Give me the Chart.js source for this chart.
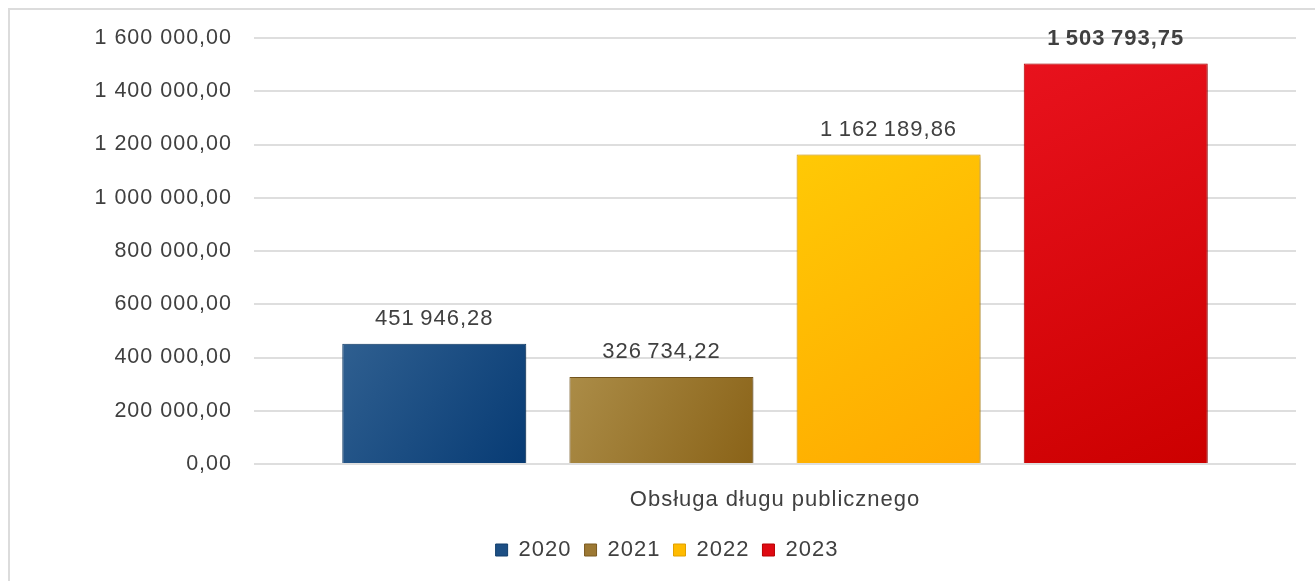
<!DOCTYPE html>
<html lang="pl">
<head>
<meta charset="UTF-8">
<title>Obsługa długu publicznego</title>
<script src="https://cdn.jsdelivr.net/npm/chart.js"></script>
<style>
  html, body { margin: 0; padding: 0; background: #fff; overflow: hidden; }
  .frame {
    position: absolute; left: 8px; top: 8px;
    width: 1400px; height: 700px;
    border: 2px solid #dcdcdc;
  }
  .wrap { position: absolute; left: 0; top: 0; width: 1315px; height: 581px; }
</style>
</head>
<body>
<div class="frame"></div>
<div class="wrap"><canvas id="chart"></canvas></div>
<script>
// dane
const categories = ['Obsługa długu publicznego'];
const years = ['2020', '2021', '2022', '2023'];
const values = [451946.28, 326734.22, 1162189.86, 1503793.75];

// kolory słupków (góra-lewo -> dół-prawo)
const colorLight = ['#2f5f90', '#ab8c47', '#ffc905', '#e8121d'];
const colorDark  = ['#073b74', '#8a6318', '#ffa900', '#cc0000'];
const colorSolid = ['#1d4f84', '#9c7833', '#ffbb00', '#df0a12'];
const colorEdge  = ['#123f6c', '#7a5a20', '#e0a000', '#b80000'];

const textColor = '#404040';
const font = '"Liberation Sans", Arial, sans-serif';

function fmt(v, sep) {
  const [i, d] = v.toFixed(2).split('.');
  return i.replace(/\B(?=(\d{3})+(?!\d))/g, sep) + ',' + d;
}

// trochę szerszy tekst, jak w oryginale
const spacing = {
  id: 'spacing',
  beforeLayout(chart) { chart.ctx.letterSpacing = '1px'; },
  beforeDraw(chart) { chart.ctx.letterSpacing = '1px'; }
};

const barStyle = {
  id: 'barStyle',
  beforeDatasetDraw(chart, args) {
    const ctx = chart.ctx;
    const i = args.index;
    args.meta.data.forEach(bar => {
      const { x, y, base, width } = bar.getProps(['x', 'y', 'base', 'width'], true);
      const g = ctx.createLinearGradient(x - width / 2, y, x + width / 2, base);
      g.addColorStop(0, colorLight[i]);
      g.addColorStop(1, colorDark[i]);
      bar.options = Object.assign({}, bar.options, { backgroundColor: g });
    });
    ctx.save();
    ctx.shadowColor = 'rgba(0,0,0,0.3)';
    ctx.shadowBlur = 5;
    ctx.shadowOffsetX = 2;
    ctx.shadowOffsetY = 1;
  },
  afterDatasetDraw(chart) {
    chart.ctx.restore();
  },
  afterDatasetsDraw(chart) {
    const ctx = chart.ctx;
    ctx.save();
    ctx.fillStyle = textColor;
    ctx.textAlign = 'center';
    ctx.textBaseline = 'middle';
    chart.data.datasets.forEach((ds, i) => {
      const meta = chart.getDatasetMeta(i);
      meta.data.forEach((bar, j) => {
        const bold = i === chart.data.datasets.length - 1;
        ctx.font = (bold ? 'bold ' : '') + '22px ' + font;
        ctx.fillText(fmt(ds.data[j], '\u2009'), bar.x, bar.y - 25);
      });
    });
    ctx.restore();
  }
};

new Chart(document.getElementById('chart'), {
  type: 'bar',
  data: {
    labels: categories,
    datasets: years.map((y, i) => ({
      label: y,
      data: [values[i]],
      backgroundColor: colorSolid[i],
      borderColor: colorEdge[i],
      borderWidth: 1,
      categoryPercentage: 0.872,
      barPercentage: 0.81
    }))
  },
  options: {
    responsive: true,
    maintainAspectRatio: false,
    animation: false,
    layout: { padding: { left: 38, right: 19, top: 38, bottom: 10 } },
    plugins: {
      tooltip: { enabled: false },
      legend: {
        position: 'bottom',
        labels: {
          boxWidth: 12,
          boxHeight: 12,
          padding: 13,
          color: textColor,
          font: { family: font, size: 22 }
        }
      }
    },
    scales: {
      x: {
        grid: { display: false },
        border: { display: false },
        ticks: { color: textColor, padding: 15, font: { family: font, size: 22 } },
        afterFit(scale) { scale.height = 62; }
      },
      y: {
        min: 0,
        max: 1600000,
        grid: { color: '#dedede', lineWidth: 2, drawTicks: false },
        border: { display: false },
        ticks: {
          stepSize: 200000,
          padding: 22,
          color: textColor,
          font: { family: font, size: 21.5 },
          callback: v => fmt(v, ' ')
        },
        afterFit(scale) { scale.width = 216; }
      }
    }
  },
  plugins: [spacing, barStyle]
});
</script>
</body>
</html>
